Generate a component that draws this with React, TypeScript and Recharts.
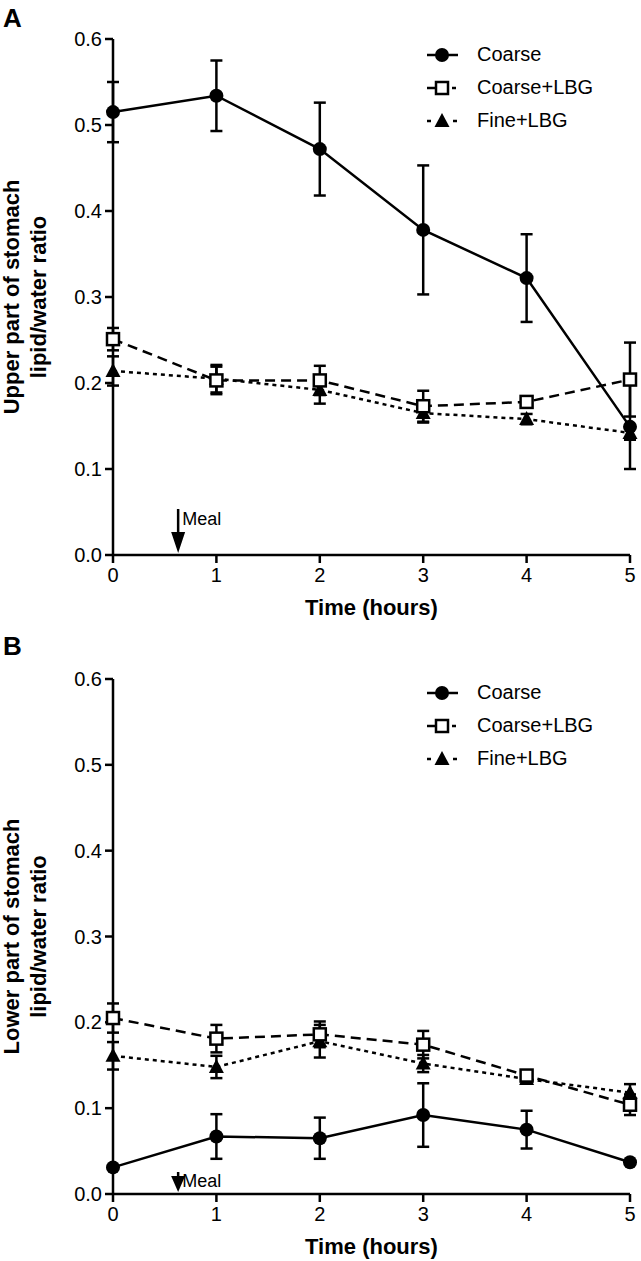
import React from 'react'
import {
  LineChart,
  Line,
  XAxis,
  YAxis,
  ErrorBar,
  Legend,
  ReferenceDot,
} from 'recharts'

// time points (hours)
const hours = [0, 1, 2, 3, 4, 5]
const xTicks = [0, 1, 2, 3, 4, 5]
const yTicks = [0, 0.1, 0.2, 0.3, 0.4, 0.5, 0.6]
const mealTime = 0.63

// panel A - upper part of stomach
const upperCoarse = [0.515, 0.534, 0.472, 0.378, 0.322, 0.149]
const upperCoarseErr = [0.035, 0.041, 0.054, 0.075, 0.051, 0.049]
const upperCoarseLbg = [0.251, 0.203, 0.203, 0.173, 0.178, 0.204]
const upperCoarseLbgErr = [0.013, 0.016, 0.017, 0.018, 0.005, 0.043]
const upperFineLbg = [0.214, 0.205, 0.192, 0.165, 0.158, 0.142]
const upperFineLbgErr = [0.017, 0.016, 0.016, 0.011, 0.006, 0.008]

// panel B - lower part of stomach
const lowerCoarse = [0.031, 0.067, 0.065, 0.092, 0.075, 0.037]
const lowerCoarseErr = [0, 0.026, 0.024, 0.037, 0.022, 0]
const lowerCoarseLbg = [0.205, 0.181, 0.186, 0.174, 0.138, 0.104]
const lowerCoarseLbgErr = [0.017, 0.016, 0.015, 0.016, 0.005, 0.012]
const lowerFineLbg = [0.161, 0.148, 0.178, 0.152, 0.134, 0.118]
const lowerFineLbgErr = [0.016, 0.013, 0.019, 0.01, 0.005, 0.01]

const FONT = '"Liberation Sans", Arial, Helvetica, sans-serif'
const SW = 2.5

type Kind = 'circle' | 'square' | 'triangle'

const series: Array<{ key: string; name: string; kind: Kind; dash?: string }> = [
  { key: 'coarse', name: 'Coarse', kind: 'circle' },
  { key: 'coarseLbg', name: 'Coarse+LBG', kind: 'square', dash: '10 6' },
  { key: 'fineLbg', name: 'Fine+LBG', kind: 'triangle', dash: '4 4' },
]

function buildRows(c: number[], ce: number[], cl: number[], cle: number[], f: number[], fe: number[]) {
  return hours.map((h, i) => ({
    x: h,
    coarse: c[i],
    coarseErr: ce[i],
    coarseLbg: cl[i],
    coarseLbgErr: cle[i],
    fineLbg: f[i],
    fineLbgErr: fe[i],
  }))
}

const upperRows = buildRows(upperCoarse, upperCoarseErr, upperCoarseLbg, upperCoarseLbgErr, upperFineLbg, upperFineLbgErr)
const lowerRows = buildRows(lowerCoarse, lowerCoarseErr, lowerCoarseLbg, lowerCoarseLbgErr, lowerFineLbg, lowerFineLbgErr)

function Marker({ kind, cx, cy }: { kind: Kind; cx: number; cy: number }) {
  if (kind === 'circle') return <circle cx={cx} cy={cy} r={7} fill="#000" />
  if (kind === 'square')
    return <rect x={cx - 6} y={cy - 6} width={12} height={12} fill="#fff" stroke="#000" strokeWidth={SW} />
  return <polygon points={`${cx},${cy - 8} ${cx - 7.5},${cy + 6} ${cx + 7.5},${cy + 6}`} fill="#000" />
}

const dotFor = (kind: Kind) => (props: any) => {
  if (props.cx == null || props.cy == null) return <g key={`${kind}-${props.index}`} />
  return (
    <g key={`${kind}-${props.index}`}>
      <Marker kind={kind} cx={props.cx} cy={props.cy} />
    </g>
  )
}

function LegendBox() {
  return (
    <div style={{ fontFamily: FONT, fontSize: 20, color: '#000' }}>
      {series.map((s) => (
        <div key={s.key} style={{ display: 'flex', alignItems: 'center', height: 33 }}>
          <svg width={40} height={22}>
            {s.kind === 'circle' && <line x1={3} x2={34} y1={11} y2={11} stroke="#000" strokeWidth={SW} />}
            {s.kind === 'square' && (
              <>
                <line x1={3} x2={12} y1={11} y2={11} stroke="#000" strokeWidth={SW} />
                <line x1={28} x2={32} y1={11} y2={11} stroke="#000" strokeWidth={SW} />
              </>
            )}
            {s.kind === 'triangle' && (
              <>
                <line x1={3} x2={7} y1={11} y2={11} stroke="#000" strokeWidth={SW} />
                <line x1={29} x2={33} y1={11} y2={11} stroke="#000" strokeWidth={SW} />
              </>
            )}
            <Marker kind={s.kind} cx={18} cy={11} />
          </svg>
          <span style={{ marginLeft: 13 }}>{s.name}</span>
        </div>
      ))}
    </div>
  )
}

const yLabel = (lines: string[]) => (props: any) => {
  const vb = props.viewBox || {}
  const cy = vb.height ? vb.y + vb.height / 2 : 297
  return (
    <g transform={`translate(19, ${cy}) rotate(-90)`}>
      {lines.map((l, i) => (
        <text key={i} x={0} y={i * 27} textAnchor="middle" fontFamily={FONT} fontSize={22} fontWeight="bold" fill="#000">
          {l}
        </text>
      ))}
    </g>
  )
}

const xLabel = (props: any) => {
  const vb = props.viewBox || {}
  return (
    <text x={vb.x + vb.width / 2} y={vb.y + 60} textAnchor="middle" fontFamily={FONT} fontSize={22} fontWeight="bold" fill="#000">
      Time (hours)
    </text>
  )
}

const mealArrow = (long: boolean) => (props: any) => {
  const { cx, cy } = props
  const top = long ? cy - 46 : cy - 22
  const headTop = long ? cy - 23 : cy - 18
  const tip = cy - 2
  return (
    <g>
      <line x1={cx} x2={cx} y1={top} y2={headTop + 2} stroke="#000" strokeWidth={SW} />
      <polygon points={`${cx - 7},${headTop} ${cx + 7},${headTop} ${cx},${tip}`} fill="#000" />
      <text x={cx + 4} y={long ? cy - 30 : cy - 7} fontFamily={FONT} fontSize={18} fill="#000">
        Meal
      </text>
    </g>
  )
}

function Panel({
  rows,
  height,
  top,
  xAxisHeight,
  legendTop,
  lines,
  long,
}: {
  rows: any[]
  height: number
  top: number
  xAxisHeight: number
  legendTop: number
  lines: string[]
  long: boolean
}) {
  const order = [series[2], series[1], series[0]]
  return (
    <LineChart width={641} height={height} data={rows} margin={{ top, right: 11, left: 0, bottom: 0 }}>
      <XAxis
        dataKey="x"
        type="number"
        domain={[0, 5]}
        ticks={xTicks}
        allowDecimals={false}
        height={xAxisHeight}
        axisLine={{ stroke: '#000', strokeWidth: SW }}
        tickLine={{ stroke: '#000', strokeWidth: SW }}
        tickSize={8}
        tickMargin={5}
        tick={{ fill: '#000', fontSize: 20, fontFamily: FONT }}
        label={{ content: xLabel }}
      />
      <YAxis
        type="number"
        domain={[0, 0.6]}
        ticks={yTicks}
        width={113}
        axisLine={{ stroke: '#000', strokeWidth: SW }}
        tickLine={{ stroke: '#000', strokeWidth: SW }}
        tickSize={8}
        tickMargin={3}
        tickFormatter={(v: number) => v.toFixed(1)}
        tick={{ fill: '#000', fontSize: 20, fontFamily: FONT }}
        label={{ content: yLabel(lines) }}
      />
      <Legend
        verticalAlign="middle"
        align="center"
        layout="vertical"
        content={() => <LegendBox />}
        wrapperStyle={{ position: 'absolute', top: legendTop, left: 424, width: 210 }}
      />
      {order.map((s) => (
        <Line
          key={s.key}
          dataKey={s.key}
          name={s.name}
          stroke="#000"
          strokeWidth={SW}
          strokeDasharray={s.dash}
          dot={dotFor(s.kind)}
          activeDot={false}
          isAnimationActive={false}
        >
          <ErrorBar dataKey={`${s.key}Err`} width={6} stroke="#000" strokeWidth={SW} direction="y" />
        </Line>
      ))}
      <ReferenceDot x={mealTime} y={0} r={0} shape={mealArrow(long)} />
    </LineChart>
  )
}

export default function App() {
  const letter: React.CSSProperties = {
    position: 'absolute',
    left: 3,
    fontFamily: FONT,
    fontWeight: 'bold',
    fontSize: 26,
    lineHeight: '26px',
    color: '#000',
  }
  return (
    <div style={{ position: 'absolute', left: 0, top: 0, width: 641, height: 1261, background: '#fff' }}>
      <div style={{ position: 'absolute', left: 0, top: 0 }}>
        <Panel
          rows={upperRows}
          height={620}
          top={39}
          xAxisHeight={65}
          legendTop={38}
          lines={['Upper part of stomach', 'lipid/water ratio']}
          long
        />
      </div>
      <div style={{ position: 'absolute', left: 0, top: 620 }}>
        <Panel
          rows={lowerRows}
          height={641}
          top={59}
          xAxisHeight={67}
          legendTop={56}
          lines={['Lower part of stomach', 'lipid/water ratio']}
          long={false}
        />
      </div>
      <div style={{ ...letter, top: 5 }}>A</div>
      <div style={{ ...letter, top: 633 }}>B</div>
    </div>
  )
}
